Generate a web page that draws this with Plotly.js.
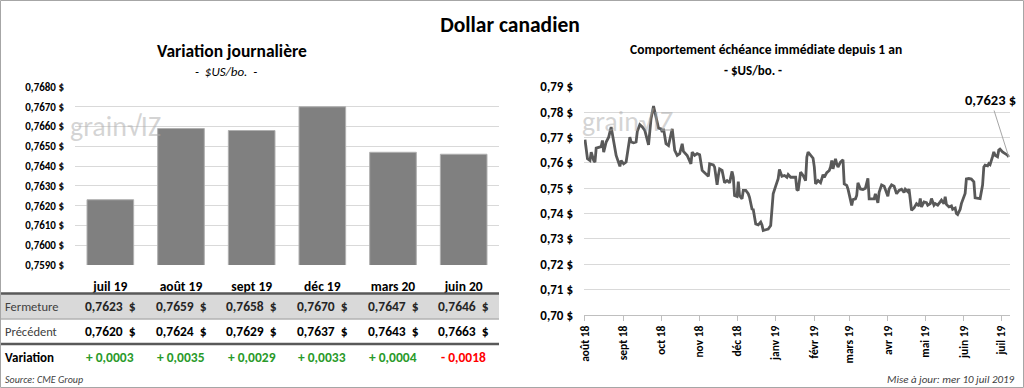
<!DOCTYPE html>
<html><head><meta charset="utf-8">
<script src="https://cdn.plot.ly/plotly-3.0.1.min.js"></script>
<style>html,body{margin:0;padding:0;background:#fff;}#chart{width:1024px;height:388px;}</style>
</head><body><div id="chart"></div>
<script>
// ---- Data: daily variation (left) ----
const contracts = ['juil 19','août 19','sept 19','déc 19','mars 20','juin 20'];
const closeValues = [0.7623,0.7659,0.7658,0.7670,0.7647,0.7646];
const prevValues = [0.7620,0.7624,0.7629,0.7637,0.7643,0.7663];
const variationValues = [0.0003,0.0035,0.0029,0.0033,0.0004,-0.0018];

// ---- Data: nearby contract over 1 year (right) ----
const histDates = [
'2018-08-01','2018-08-03','2018-08-05','2018-08-06','2018-08-08','2018-08-09','2018-08-10','2018-08-13','2018-08-14','2018-08-15',
'2018-08-16','2018-08-18','2018-08-20','2018-08-22','2018-08-23','2018-08-25','2018-08-26','2018-08-29','2018-08-30','2018-09-01',
'2018-09-03','2018-09-06','2018-09-07','2018-09-09','2018-09-11','2018-09-12','2018-09-14','2018-09-16','2018-09-18','2018-09-21',
'2018-09-23','2018-09-25','2018-09-27','2018-09-29','2018-10-01','2018-10-02','2018-10-03','2018-10-05','2018-10-07','2018-10-09',
'2018-10-10','2018-10-12','2018-10-14','2018-10-16','2018-10-18','2018-10-19','2018-10-22','2018-10-25','2018-10-26','2018-10-28',
'2018-10-30','2018-11-01','2018-11-03','2018-11-05','2018-11-08','2018-11-09','2018-11-12','2018-11-13','2018-11-15','2018-11-16',
'2018-11-17','2018-11-19','2018-11-21','2018-11-23','2018-11-25','2018-11-27','2018-11-28','2018-11-29','2018-12-01','2018-12-02',
'2018-12-03','2018-12-05','2018-12-06','2018-12-08','2018-12-10','2018-12-11','2018-12-13','2018-12-14','2018-12-16','2018-12-18',
'2018-12-20','2018-12-21','2018-12-22','2018-12-24','2018-12-26','2018-12-28','2018-12-29','2018-12-30','2019-01-01','2019-01-03',
'2019-01-04','2019-01-06','2019-01-08','2019-01-10','2019-01-11','2019-01-13','2019-01-15','2019-01-17','2019-01-18','2019-01-19',
'2019-01-21','2019-01-23','2019-01-25','2019-01-26','2019-01-27','2019-01-29','2019-01-31','2019-02-01','2019-02-02','2019-02-04',
'2019-02-06','2019-02-08','2019-02-09','2019-02-11','2019-02-13','2019-02-14','2019-02-15','2019-02-16','2019-02-18','2019-02-19',
'2019-02-20','2019-02-22','2019-02-24','2019-02-25','2019-02-27','2019-02-28','2019-03-03','2019-03-04','2019-03-06','2019-03-07',
'2019-03-08','2019-03-10','2019-03-12','2019-03-14','2019-03-16','2019-03-17','2019-03-19','2019-03-21','2019-03-22','2019-03-24',
'2019-03-25','2019-03-27','2019-03-29','2019-03-30','2019-04-01','2019-04-02','2019-04-04','2019-04-06','2019-04-08','2019-04-10',
'2019-04-12','2019-04-14','2019-04-15','2019-04-17','2019-04-18','2019-04-20','2019-04-22','2019-04-24','2019-04-26','2019-04-27',
'2019-04-28','2019-04-30','2019-05-02','2019-05-03','2019-05-05','2019-05-06','2019-05-08','2019-05-09','2019-05-11','2019-05-13',
'2019-05-14','2019-05-16','2019-05-17','2019-05-18','2019-05-20','2019-05-22','2019-05-23','2019-05-25','2019-05-26','2019-05-27',
'2019-05-29','2019-05-30','2019-06-01','2019-06-02','2019-06-03','2019-06-05','2019-06-07','2019-06-09','2019-06-10','2019-06-12',
'2019-06-14','2019-06-16','2019-06-17','2019-06-18','2019-06-20','2019-06-21','2019-06-22','2019-06-24','2019-06-25','2019-06-26',
'2019-06-28','2019-06-29','2019-06-30','2019-07-02','2019-07-04','2019-07-06','2019-07-07'];
const histValues = [
0.7691,0.7616,0.7609,0.7642,0.7609,0.7603,0.7658,0.7662,0.7664,0.7688,
0.7642,0.7682,0.7701,0.7741,0.7708,0.7662,0.7629,0.7586,0.7609,0.7596,
0.7603,0.7701,0.7682,0.7679,0.7682,0.7724,0.7750,0.7741,0.7728,0.7671,
0.7774,0.7824,0.7774,0.7737,0.7734,0.7721,0.7734,0.7675,0.7668,0.7708,
0.7734,0.7649,0.7629,0.7636,0.7675,0.7645,0.7629,0.7596,0.7642,0.7629,
0.7636,0.7632,0.7570,0.7561,0.7547,0.7596,0.7592,0.7583,0.7513,0.7550,
0.7576,0.7570,0.7521,0.7530,0.7521,0.7566,0.7543,0.7471,0.7467,0.7526,
0.7471,0.7458,0.7491,0.7491,0.7478,0.7464,0.7418,0.7416,0.7359,0.7355,
0.7366,0.7355,0.7333,0.7336,0.7339,0.7353,0.7432,0.7478,0.7508,0.7537,
0.7574,0.7547,0.7550,0.7543,0.7554,0.7543,0.7543,0.7543,0.7495,0.7491,
0.7563,0.7550,0.7530,0.7622,0.7642,0.7632,0.7618,0.7583,0.7517,0.7530,
0.7521,0.7553,0.7543,0.7561,0.7570,0.7583,0.7609,0.7576,0.7616,0.7596,
0.7583,0.7603,0.7612,0.7517,0.7511,0.7497,0.7432,0.7455,0.7458,0.7471,
0.7521,0.7497,0.7495,0.7500,0.7539,0.7458,0.7458,0.7458,0.7478,0.7442,
0.7484,0.7513,0.7508,0.7497,0.7468,0.7497,0.7513,0.7508,0.7478,0.7491,
0.7496,0.7483,0.7496,0.7486,0.7496,0.7413,0.7422,0.7439,0.7430,0.7459,
0.7426,0.7446,0.7443,0.7433,0.7439,0.7459,0.7433,0.7439,0.7433,0.7446,
0.7453,0.7439,0.7466,0.7436,0.7426,0.7430,0.7417,0.7422,0.7400,0.7396,
0.7417,0.7439,0.7466,0.7479,0.7536,0.7538,0.7536,0.7525,0.7462,0.7459,
0.7459,0.7512,0.7584,0.7591,0.7588,0.7597,0.7593,0.7624,0.7643,0.7630,
0.7624,0.7650,0.7654,0.7643,0.7637,0.7630,0.7623];
const monthTickDates = ['2018-08-01','2018-09-01','2018-10-01','2018-11-01','2018-12-01','2019-01-01','2019-02-01','2019-03-01','2019-04-01','2019-05-01','2019-06-01','2019-07-01'];
const monthTickLabels = ['août 18','sept 18','oct 18','nov 18','déc 18','janv 19','févr 19','mars 19','avr 19','mai 19','juin 19','juil 19'];

// ---- helpers (pixel -> paper) ----
const W = 1024, H = 388;
const px = p => p / W;
const py = p => 1 - p / H;
const FONT = "Carlito, Lato, 'Open Sans', sans-serif";
const fmt4 = v => v.toFixed(4).replace('.', ',');
const fmtVar = v => (v >= 0 ? '+ ' : '- ') + fmt4(Math.abs(v));

const traces = [
  {type:'bar', x:contracts, y:closeValues, xaxis:'x', yaxis:'y',
   marker:{color:'#808080', line:{color:'#b0b0b0', width:1}}, hoverinfo:'skip', cliponaxis:true},
  {type:'scatter', mode:'lines', x:histDates, y:histValues, xaxis:'x2', yaxis:'y2',
   line:{color:'#595959', width:2.8}, hoverinfo:'skip'}
];

const annotations = [];
const shapes = [];
const txt = (x, y, text, font, xanchor) => annotations.push({xref:'paper', yref:'paper', x:px(x), y:py(y), text,
  showarrow:false, xanchor:xanchor || 'center', yanchor:'middle', font:Object.assign({family:FONT, color:'#000'}, font)});

// titles
txt(232, 51, 'Variation journalière', {size:17.5, weight:'bold'});
txt(226, 71, '-  $US/bo.  -', {size:13, style:'italic'});
txt(766, 50, 'Comportement échéance immédiate depuis 1 an', {size:13.5, weight:'bold'});
txt(753, 70, '- $US/bo. -', {size:13, weight:'bold'});

// watermarks
txt(68, 127, 'grain√IZ', {size:28, color:'rgba(170,170,170,0.5)'}, 'left');
txt(580, 121, 'grain√IZ', {size:28, color:'rgba(170,170,170,0.5)'}, 'left');

// last value label on the line chart
const lastI = histValues.length - 1;
annotations.push({xref:'x2', yref:'y2', x:histDates[lastI], y:histValues[lastI], text:fmt4(histValues[lastI]) + ' $',
  showarrow:true, arrowhead:0, arrowwidth:1, arrowcolor:'#a6a6a6', ax:-18, ay:-57, standoff:0,
  font:{family:FONT, size:14.5, color:'#000', weight:'bold'}});

// table row labels
txt(3, 306, 'Fermeture', {size:12.5, color:'#404040'}, 'left');
txt(3, 331, 'Précédent', {size:12.5, color:'#404040'}, 'left');
txt(3, 357, 'Variation', {size:13, weight:'bold'}, 'left');

// table values
contracts.forEach((c, i) => {
  const cell = (y, text, font) => annotations.push({xref:'x', yref:'paper', x:c, y:py(y), text, showarrow:false,
    xanchor:'center', yanchor:'middle', font:Object.assign({family:FONT, size:13.5, weight:'bold'}, font)});
  cell(306, fmt4(closeValues[i]) + '  $', {color:'#262626'});
  cell(331, fmt4(prevValues[i]) + '  $', {color:'#000'});
  cell(357, fmtVar(variationValues[i]), {color: variationValues[i] >= 0 ? '#2a9a2a' : '#ff0000'});
});

// footers
txt(3, 379, 'Source: CME Group', {size:10, color:'#404040', style:'italic'}, 'left');
txt(1017, 379, 'Mise à jour: mer 10 juil 2019', {size:11, color:'#404040', style:'italic'}, 'right');

// table shapes
shapes.push({type:'rect', xref:'paper', yref:'paper', x0:px(1), x1:px(499), y0:py(318.5), y1:py(294), fillcolor:'#d9d9d9', line:{width:0}, layer:'below'});
shapes.push({type:'line', xref:'paper', yref:'paper', x0:px(1), x1:px(499), y0:py(293.5), y1:py(293.5), line:{color:'#595959', width:2.5}});
shapes.push({type:'line', xref:'paper', yref:'paper', x0:px(1), x1:px(499), y0:py(319), y1:py(319), line:{color:'#8c8c8c', width:1}});
shapes.push({type:'line', xref:'paper', yref:'paper', x0:px(1), x1:px(499), y0:py(344), y1:py(344), line:{color:'#595959', width:2.5}});
// outer frame
shapes.push({type:'rect', xref:'paper', yref:'paper', x0:px(0.5), x1:px(1023.5), y0:py(387.5), y1:py(0.5), line:{color:'#a6a6a6', width:1}, fillcolor:'rgba(0,0,0,0)'});

const layout = {
  width:W, height:H, margin:{l:0, r:0, t:0, b:0},
  paper_bgcolor:'#fff', plot_bgcolor:'rgba(0,0,0,0)',
  separators:', ', showlegend:false,
  font:{family:FONT, color:'#000'},
  title:{text:'Dollar canadien', x:px(510), xanchor:'center', y:py(24), yanchor:'middle', yref:'paper',
    font:{family:FONT, size:21.5, color:'#000', weight:'bold'}},
  bargap:0.34,
  xaxis:{domain:[px(75), px(499)], type:'category', showgrid:false, zeroline:false, showline:false, ticks:'',
    ticklabelstandoff:11, tickfont:{family:FONT, size:13.5, color:'#000', weight:'bold'}, fixedrange:true},
  yaxis:{domain:[py(265), py(87)], range:[0.759, 0.768], dtick:0.001, tick0:0.759, tickformat:'.4f', ticksuffix:' $',
    showgrid:true, gridcolor:'#d9d9d9', gridwidth:1, zeroline:false, showline:false, ticks:'',
    ticklabelstandoff:10, tickfont:{family:FONT, size:11, color:'#000', weight:'bold'}, fixedrange:true},
  xaxis2:{domain:[px(584), px(1010)], type:'date', range:['2018-07-31 05:00','2019-07-08 00:00'], anchor:'y2',
    tickvals:monthTickDates, ticktext:monthTickLabels, tickangle:-90, ticks:'outside', ticklen:5, tickcolor:'#bfbfbf',
    showline:true, linecolor:'#bfbfbf', linewidth:1, showgrid:false, zeroline:false,
    tickfont:{family:FONT, size:11.5, color:'#000', weight:'bold'}, fixedrange:true},
  yaxis2:{domain:[py(315), py(86.7)], range:[0.70, 0.79], dtick:0.01, tick0:0.70, tickformat:'.2f', ticksuffix:' $', anchor:'x2',
    showgrid:true, gridcolor:'#d9d9d9', gridwidth:1, zeroline:false, showline:false, ticks:'',
    ticklabelstandoff:10, tickfont:{family:FONT, size:13, color:'#000', weight:'bold'}, fixedrange:true},
  annotations, shapes
};

Plotly.newPlot('chart', traces, layout, {staticPlot:true, displayModeBar:false});
</script></body></html>
